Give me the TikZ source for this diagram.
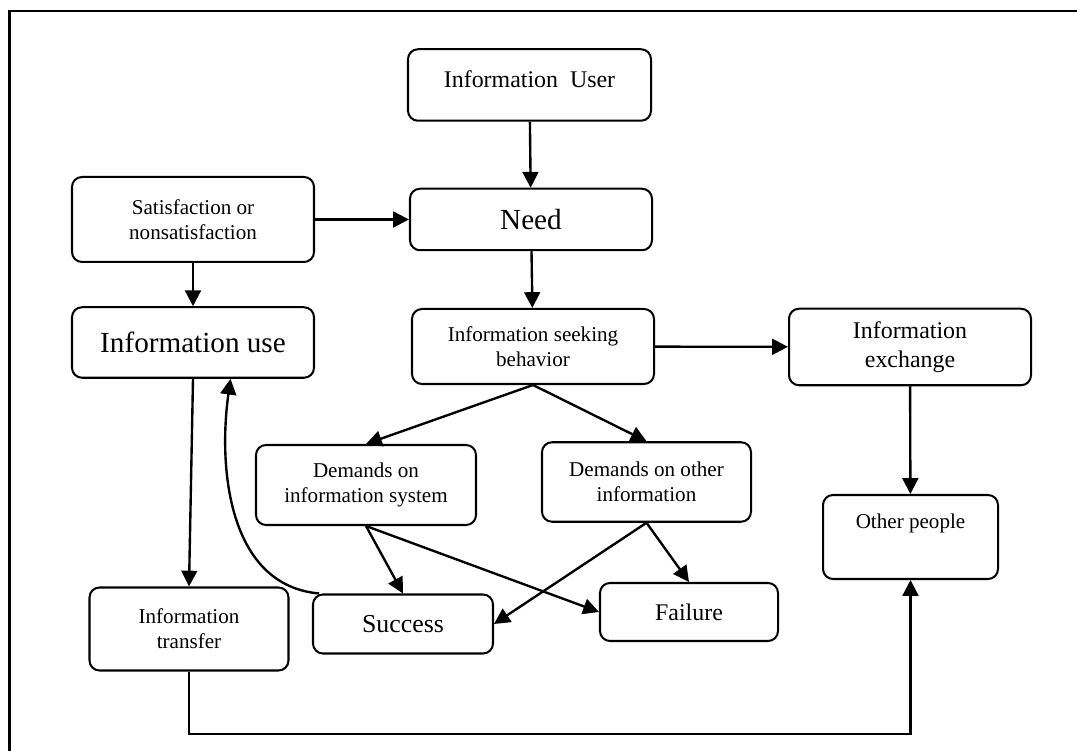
\documentclass[tikz,border=0pt]{standalone}
\usepackage{fontspec}
\setmainfont{Liberation Serif}
\usetikzlibrary{arrows.meta}

\begin{document}
\begin{tikzpicture}[box/.style={draw, line width=1.15pt, rounded corners=0.2cm, align=center, inner sep=2pt},
	small/.style={font=\fontsize{12}{14.2}\selectfont},
	mid/.style={font=\fontsize{13.6}{16.5}\selectfont},
	big/.style={font=\fontsize{16.6}{19}\selectfont},
	link/.style={line width=1.35pt, -{Triangle[length=9pt,width=9pt]}}]
			\useasboundingbox (0,0) rectangle (21.54,15.02);
			\draw [line width=1.3pt] (0.19,0) -- (0.19,14.8) -- (21.54,14.8);
			
			%% top of the chain
			\node[box, mid, minimum width=4.86cm, minimum height=1.43cm, text depth=0.24cm] (user) at (10.59,13.32) {Information\ \ User};
			\node[box, big, minimum width=4.84cm, minimum height=1.23cm] (need) at (10.62,10.63) {Need};
			\node[box, small, minimum width=4.84cm, minimum height=1.70cm] (satis) at (3.86,10.63) {Satisfaction or\\nonsatisfaction};
			\node[box, big, minimum width=4.84cm, minimum height=1.41cm] (use) at (3.86,8.17) {Information use};
			\node[box, small, minimum width=4.84cm, minimum height=1.50cm] (seek) at (10.66,8.09) {Information seeking\\behavior};
			\node[box, mid, minimum width=4.84cm, minimum height=1.53cm] (exch) at (18.2,8.08) {Information\\exchange};
			
			%% demands
			\node[box, small, minimum width=4.4cm, minimum height=1.6cm] (dsys) at (7.32,5.32) {Demands on\\information system};
			\node[box, small, minimum width=4.18cm, minimum height=1.59cm] (doth) at (12.93,5.38) {Demands on other\\information};
			\node[box, small, minimum width=3.5cm, minimum height=1.68cm, text depth=0.65cm] (other) at (18.21,4.28) {Other people};
			
			%% outcomes
			\node[box, small, minimum width=3.98cm, minimum height=1.66cm] (trans) at (3.78,2.44) {Information\\transfer};
			\node[box, font=\fontsize{14.7}{17}\selectfont, minimum width=3.6cm, minimum height=1.18cm] (succ) at (8.06,2.54) {Success};
			\node[box, mid, minimum width=3.56cm, minimum height=1.16cm] (fail) at (13.78,2.78) {Failure};
			\coordinate (low) at (0,0.34);
			
			\draw [link] (user) -- (need);
			\draw [link] (satis) -- (need);
			\draw [link] (satis) -- (use);
			\draw [link] (need) -- (seek);
			\draw [link] (seek) -- (exch);
			\draw [link] (seek.south) -- (dsys.north);
			\draw [link] (seek.south) -- (doth.north);
			\draw [link] (exch) -- (other);
			\draw [link] (use.south) -- (trans.north);
			
			%% feedback
			\draw [link] (succ.160) to[out=175,in=-98] (use.-44);
			
			\draw [link] (dsys.south) -- (succ.north);
			\draw [link] (dsys.south) -- (fail.west);
			\draw [link] (doth.south) -- (succ.east);
			\draw [link] (doth.south) -- (fail.north);
			\draw [link] (trans.south) -- (trans.south |- low) -| (other.south);
			
		\end{tikzpicture}
\end{document}
